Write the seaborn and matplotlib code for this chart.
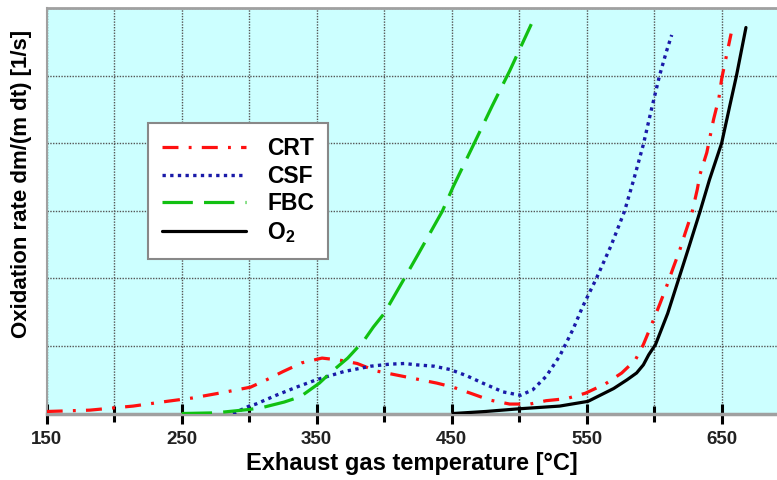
import matplotlib
matplotlib.use("Agg")
import matplotlib.pyplot as plt
import seaborn as sns
import pandas as pd

# values (x = exhaust gas temperature in °C, y = grid units)
crt_t = [150, 182, 214, 239, 258, 283, 301, 313, 325, 339, 354, 367, 380, 394, 409, 424, 439,
         451, 464, 478, 493, 508, 520, 535, 549, 564, 576, 586, 592, 598, 604, 609, 614, 619,
         623, 628, 632, 634, 639, 644, 648, 650, 653, 657]
crt_y = [0.03, 0.05, 0.11, 0.18, 0.23, 0.32, 0.39, 0.5, 0.62, 0.75, 0.82, 0.79, 0.74, 0.63,
         0.57, 0.51, 0.45, 0.39, 0.3, 0.2, 0.14, 0.14, 0.19, 0.22, 0.3, 0.44, 0.6, 0.79, 1.02,
         1.31, 1.61, 1.87, 2.15, 2.42, 2.67, 2.97, 3.32, 3.54, 3.86, 4.35, 4.67, 4.95, 5.24, 5.62]

csf_t = [288, 300, 305, 320, 335, 350, 370, 390, 404, 415, 424, 437, 449, 461, 473, 488, 501,
         510, 520, 530, 540, 547, 557, 568, 578, 585, 592, 598, 604, 609, 613]
csf_y = [0.0, 0.11, 0.14, 0.27, 0.39, 0.5, 0.62, 0.7, 0.73, 0.74, 0.72, 0.7, 0.65, 0.56, 0.45,
         0.32, 0.27, 0.35, 0.55, 0.85, 1.25, 1.58, 1.99, 2.48, 2.99, 3.47, 3.98, 4.5, 5.0, 5.35, 5.6]

fbc_t = [250, 275, 300, 310, 326, 338, 352, 360, 373, 385, 392, 400, 415, 425, 443, 451, 467,
         480, 493, 509]
fbc_y = [0.0, 0.01, 0.06, 0.09, 0.17, 0.25, 0.45, 0.6, 0.82, 1.08, 1.28, 1.48, 2.0, 2.35, 2.99,
         3.35, 4.01, 4.55, 5.07, 5.76]

o2_t = [451, 475, 500, 530, 551, 560, 570, 580, 587, 592, 596, 601, 610, 618, 626, 634, 641,
        650, 656, 661, 668]
o2_y = [0.0, 0.03, 0.07, 0.11, 0.18, 0.27, 0.37, 0.5, 0.6, 0.72, 0.87, 1.02, 1.48, 1.98, 2.48,
        2.99, 3.46, 4.0, 4.55, 5.0, 5.71]

major_ticks = [150, 250, 350, 450, 550, 650]
minor_ticks = [200, 300, 400, 500, 600]

sns.set_style("white")
plt.rcParams['font.family'] = ['Liberation Sans', 'DejaVu Sans']
plt.rcParams['font.weight'] = 'bold'
plt.rcParams['text.color'] = 'black'
plt.rcParams['axes.labelcolor'] = 'black'
plt.rcParams['mathtext.fontset'] = 'custom'
plt.rcParams['mathtext.rm'] = 'Liberation Sans:bold'
plt.rcParams['mathtext.bf'] = 'Liberation Sans:bold'

fig = plt.figure(figsize=(7.77, 4.80), dpi=100)
ax = fig.add_axes([0.0601, 0.1385, 0.9399, 0.845])
ax.set_facecolor('#ccffff')

series = [
    ("CRT", crt_t, crt_y, '#ff1010', (0, (5, 3.2, 0.9, 3.2))),
    ("CSF", csf_t, csf_y, '#1a1aa8', (0, (1, 1.3))),
    ("FBC", fbc_t, fbc_y, '#11c011', (0, (9.5, 3.5))),
    (r"O$_\mathbf{2}$", o2_t, o2_y, '#000000', '-'),
]
for name, t, y, col, ls in series:
    df = pd.DataFrame({'t': t, 'y': y})
    sns.lineplot(data=df, x='t', y='y', ax=ax, color=col, linestyle=ls,
                 linewidth=2.3 if name != "CSF" else 2.4, label=name, sort=False,
                 estimator=None, zorder=3)

ax.set_xlim(150, 691)
ax.set_ylim(0, 6.0)
ax.set_xticks(major_ticks)
ax.set_xticks(minor_ticks, minor=True)
ax.set_xticklabels([str(v) for v in major_ticks], fontsize=13.5, fontweight='bold', color='#222222')
ax.set_yticks(range(0, 7))
ax.set_yticklabels([])
ax.tick_params(axis='x', which='major', bottom=True, direction='inout', length=15, width=2.2,
               color='black', pad=5)
ax.tick_params(axis='x', which='minor', bottom=True, direction='inout', length=12, width=2.2,
               color='black')
ax.tick_params(axis='y', length=0)

ax.grid(True, which='both', axis='x', color='#555555', linestyle=(0, (1, 1)), linewidth=1.0)
ax.grid(True, which='major', axis='y', color='#555555', linestyle=(0, (1, 1)), linewidth=1.0)
ax.set_axisbelow(True)

for s in ['left', 'top', 'bottom']:
    ax.spines[s].set_visible(True)
    ax.spines[s].set_color('#a0a0a0')
ax.spines['bottom'].set_linewidth(2.5)
ax.spines['top'].set_linewidth(2.0)
ax.spines['left'].set_linewidth(1.5)
ax.spines['right'].set_visible(False)

ax.set_xlabel("Exhaust gas temperature [°C]", fontsize=17, fontweight='bold', labelpad=3)
ax.set_ylabel("Oxidation rate dm/(m dt) [1/s]", fontsize=16, fontweight='bold')
ax.yaxis.set_label_coords(-0.02, 0.567)

leg = ax.legend(loc='upper left', bbox_to_anchor=(0.1387, 0.716), borderaxespad=0,
                fontsize=16.5, handlelength=3.67, handletextpad=0.92, labelspacing=0.2,
                frameon=True, fancybox=False, borderpad=0.62)
leg.get_frame().set_edgecolor('#888888')
leg.get_frame().set_linewidth(1.5)
leg.get_frame().set_facecolor('white')
leg.get_frame().set_alpha(1.0)

fig.savefig("out.png", dpi=100)
